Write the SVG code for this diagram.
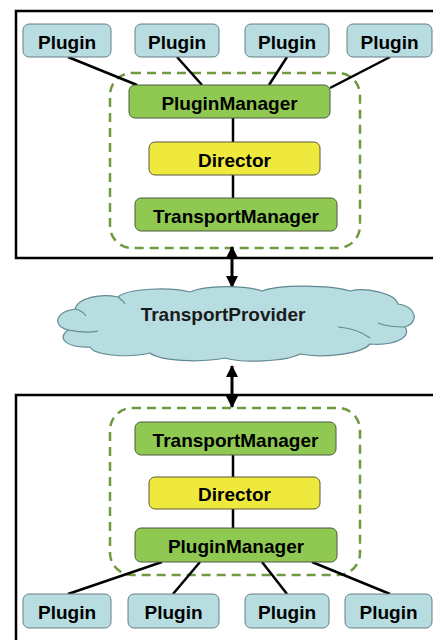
<svg xmlns="http://www.w3.org/2000/svg" width="433" height="640" viewBox="0 0 433 640">
  <defs>
    <style>
      .frame { fill: none; stroke: #000; stroke-width: 2.5; }
      .group { fill: none; stroke: #6f9a40; stroke-width: 2.5; stroke-dasharray: 9 6; }
      .plugin { fill: #b8dde1; stroke: #667f83; stroke-width: 1; }
      .mgr { fill: #8fc952; stroke: #4d5a40; stroke-width: 1; }
      .dir { fill: #efe93d; stroke: #5a5a3a; stroke-width: 1; }
      .lbl { font-family: "Liberation Sans", Arial, sans-serif; font-weight: bold; font-size: 19px; text-anchor: middle; fill: #000; }
      .link { stroke: #000; stroke-width: 2.5; fill: none; }
      .arrow { stroke: #000; stroke-width: 3; fill: none; }
      .cloud { fill: #b8dde1; stroke: #5f8a90; stroke-width: 1.2; }
      .crease { fill: none; stroke: #5f8a90; stroke-width: 1.2; }
    </style>
    <marker id="head" viewBox="0 0 12 12" refX="11" refY="6" markerWidth="12" markerHeight="12" markerUnits="userSpaceOnUse" orient="auto-start-reverse">
      <path d="M0,0 L12,6 L0,12 Z" fill="#000"/>
    </marker>
  </defs>

  <!-- outer frames -->
  <rect class="frame" x="16" y="11" width="430" height="247"/>
  <rect class="frame" x="16" y="395" width="430" height="260"/>

  <!-- dashed groupings -->
  <rect class="group" x="110" y="73" width="250" height="175" rx="22"/>
  <rect class="group" x="110" y="408" width="250" height="167" rx="22"/>

  <!-- connectors -->
  <g id="connectors">
    <line class="link" x1="68" y1="57" x2="137" y2="85"/>
    <line class="link" x1="177" y1="57" x2="202" y2="85"/>
    <line class="link" x1="287" y1="57" x2="269" y2="85"/>
    <line class="link" x1="390" y1="57" x2="330" y2="88"/>
    <line class="link" x1="233" y1="118" x2="233" y2="142"/>
    <line class="link" x1="233" y1="175" x2="233" y2="198"/>
    <line class="arrow" x1="232" y1="247" x2="232" y2="287" marker-start="url(#head)" marker-end="url(#head)"/>
    <line class="arrow" x1="232" y1="366" x2="232" y2="407" marker-start="url(#head)" marker-end="url(#head)"/>
    <line class="link" x1="233" y1="455" x2="233" y2="477"/>
    <line class="link" x1="233" y1="509" x2="233" y2="528"/>
    <line class="link" x1="162" y1="562" x2="68" y2="594"/>
    <line class="link" x1="200" y1="562" x2="173" y2="594"/>
    <line class="link" x1="262" y1="562" x2="287" y2="594"/>
    <line class="link" x1="312" y1="562" x2="390" y2="594"/>
  </g>

  <!-- upper side -->
  <g id="plugin-t1"><rect class="plugin" x="23" y="24" width="88" height="33" rx="6"/><text class="lbl" x="67" y="48.5">Plugin</text></g>
  <g id="plugin-t2"><rect class="plugin" x="135" y="24" width="84" height="33" rx="6"/><text class="lbl" x="177" y="48.5">Plugin</text></g>
  <g id="plugin-t3"><rect class="plugin" x="245" y="24" width="84" height="33" rx="6"/><text class="lbl" x="287" y="48.5">Plugin</text></g>
  <g id="plugin-t4"><rect class="plugin" x="347" y="24" width="85" height="33" rx="6"/><text class="lbl" x="389.5" y="48.5">Plugin</text></g>
  <g id="pluginmanager-t"><rect class="mgr" x="129" y="85" width="201" height="33" rx="6"/><text class="lbl" x="229.5" y="109.5">PluginManager</text></g>
  <g id="director-t"><rect class="dir" x="149" y="142" width="171" height="33" rx="6"/><text class="lbl" x="234.5" y="166.5">Director</text></g>
  <g id="transportmanager-t"><rect class="mgr" x="135" y="198" width="202" height="33" rx="6"/><text class="lbl" x="236" y="222.5">TransportManager</text></g>

  <!-- shared transport -->
  <g id="transportprovider">
    <path class="cloud" d="M68,330 C52,326 55,312 75,309 C78,298 100,293 118,297 C128,288 170,287 190,292 C205,285 245,285 262,291 C280,284 330,285 350,291 C365,287 395,293 398,304 C416,306 420,322 405,327 C412,337 395,346 370,344 C360,355 320,358 300,354 C285,362 240,363 225,358 C200,363 160,361 150,353 C130,358 95,356 90,347 C70,348 55,340 68,330 Z"/>
    <path class="crease" d="M68,330 C78,332 90,333 98,331"/>
    <path class="crease" d="M75,309 C80,310 84,313 86,316"/>
    <path class="crease" d="M405,327 C395,327 385,326 378,323"/>
    <path class="crease" d="M338,327 C350,328 362,332 370,338"/>
    <path class="crease" d="M118,297 C122,300 124,302 125,304"/>
    <text class="lbl" x="223" y="321" style="fill:#1a1a1a">TransportProvider</text>
  </g>

  <!-- lower side -->
  <g id="transportmanager-b"><rect class="mgr" x="135" y="422" width="201" height="33" rx="6"/><text class="lbl" x="235.5" y="446.5">TransportManager</text></g>
  <g id="director-b"><rect class="dir" x="149" y="477" width="171" height="32" rx="6"/><text class="lbl" x="234.5" y="501">Director</text></g>
  <g id="pluginmanager-b"><rect class="mgr" x="135" y="528" width="202" height="34" rx="6"/><text class="lbl" x="236" y="553">PluginManager</text></g>
  <g id="plugin-b1"><rect class="plugin" x="23" y="594" width="88" height="34" rx="6"/><text class="lbl" x="67" y="619">Plugin</text></g>
  <g id="plugin-b2"><rect class="plugin" x="128" y="594" width="91" height="34" rx="6"/><text class="lbl" x="173.5" y="619">Plugin</text></g>
  <g id="plugin-b3"><rect class="plugin" x="245" y="594" width="84" height="34" rx="6"/><text class="lbl" x="287" y="619">Plugin</text></g>
  <g id="plugin-b4"><rect class="plugin" x="345" y="594" width="87" height="34" rx="6"/><text class="lbl" x="388.5" y="619">Plugin</text></g>
</svg>
